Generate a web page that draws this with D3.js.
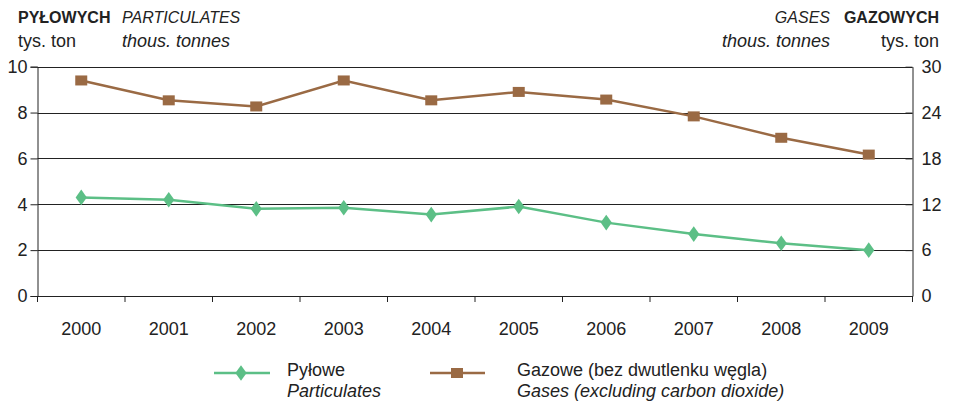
<!DOCTYPE html>
<html><head><meta charset="utf-8">
<script src="https://cdn.jsdelivr.net/npm/d3@7"></script>
<style>body{margin:0;background:#fff}svg{display:block;font-family:"Liberation Sans",Arial,sans-serif}</style>
</head><body><svg id="c" width="956" height="401"></svg>
<script>
const years = ["2000","2001","2002","2003","2004","2005","2006","2007","2008","2009"];
const particulates = [4.3, 4.2, 3.8, 3.85, 3.55, 3.9, 3.2, 2.7, 2.3, 2.0];
const gases = [28.2, 25.6, 24.8, 28.2, 25.6, 26.7, 25.7, 23.5, 20.7, 18.5];
const leftTicks = [0, 2, 4, 6, 8, 10];
const rightTicks = [0, 6, 12, 18, 24, 30];

const svg = d3.select("#c");
const L = 37.5, R = 912.5, T = 66.7, B = 296;
const green = "#5cbf86", brown = "#9a6a44";
const FS = 18;

const x = d3.scaleBand().domain(years).range([L, R]);
const yL = d3.scaleLinear().domain([0, 10]).range([B, T]);
const yR = d3.scaleLinear().domain([0, 30]).range([B, T]);

svg.append("g").selectAll("line").data(leftTicks.slice(1)).join("line")
  .attr("x1", L).attr("x2", R).attr("y1", d => Math.round(yL(d)) + 0.5).attr("y2", d => Math.round(yL(d)) + 0.5)
  .attr("stroke", "#222").attr("stroke-width", 1);

const gl = svg.append("g").attr("transform", `translate(${L},0)`)
  .call(d3.axisLeft(yL).tickValues(leftTicks).tickSize(7).tickPadding(3));
const gr = svg.append("g").attr("transform", `translate(${R},0)`)
  .call(d3.axisRight(yR).tickValues(rightTicks).tickSize(0).tickPadding(9));
gr.selectAll(".tick").append("line").attr("x1", -7).attr("x2", 0).attr("stroke", "#222");
const gb = svg.append("g").attr("transform", `translate(0,${B})`)
  .call(d3.axisBottom(x).tickSize(0).tickPadding(26));
gb.selectAll(".tick text").attr("dy", "0.71em");
svg.append("g").selectAll("line").data(d3.range(years.length + 1)).join("line")
  .attr("x1", i => L + i * x.bandwidth()).attr("x2", i => L + i * x.bandwidth())
  .attr("y1", B).attr("y2", B + 6).attr("stroke", "#222");

[gl, gr, gb].forEach(g => {
  g.selectAll(".domain").attr("stroke", "#222");
  g.selectAll(".tick line").attr("stroke", "#222");
  g.selectAll("text").attr("font-size", FS).attr("fill", "#222").attr("font-family", '"Liberation Sans",Arial,sans-serif');
});
gb.selectAll(".domain").remove();
svg.append("line").attr("x1", L).attr("x2", R).attr("y1", B + 0.5).attr("y2", B + 0.5).attr("stroke", "#222");

const cx = d => x(d) + x.bandwidth() / 2;

svg.append("path").datum(gases.map((v, i) => [cx(years[i]), yR(v)]))
  .attr("d", d3.line()).attr("fill", "none").attr("stroke", brown).attr("stroke-width", 2.5);
svg.append("path").datum(particulates.map((v, i) => [cx(years[i]), yL(v)]))
  .attr("d", d3.line()).attr("fill", "none").attr("stroke", green).attr("stroke-width", 2.5);

svg.append("g").selectAll("rect").data(gases).join("rect")
  .attr("x", (d, i) => cx(years[i]) - 6).attr("y", d => yR(d) - 5).attr("width", 12).attr("height", 10).attr("fill", brown);
const diamond = d3.symbol().type(d3.symbolDiamond).size(70);
svg.append("g").selectAll("path").data(particulates).join("path")
  .attr("d", diamond).attr("transform", (d, i) => `translate(${cx(years[i])},${yL(d)}) scale(1.25,1)`).attr("fill", green);

const txt = (s, xx, yy, opts = {}) => svg.append("text").attr("x", xx).attr("y", yy).text(s)
  .attr("font-size", opts.size || FS).attr("fill", "#222")
  .attr("font-weight", opts.bold ? "bold" : null).attr("font-style", opts.italic ? "italic" : null)
  .attr("text-anchor", opts.anchor || "start");
txt("PYŁOWYCH", 18, 23, {bold: true, size: 16});
txt("tys. ton", 18, 47);
txt("PARTICULATES", 122, 23, {italic: true, size: 16});
txt("thous. tonnes", 122, 47, {italic: true});
txt("GAZOWYCH", 939, 23, {bold: true, anchor: "end", size: 16});
txt("tys. ton", 939, 47, {anchor: "end"});
txt("GASES", 830, 23, {italic: true, anchor: "end", size: 16});
txt("thous. tonnes", 830, 47, {italic: true, anchor: "end"});

svg.append("line").attr("x1", 214).attr("x2", 270).attr("y1", 373).attr("y2", 373).attr("stroke", green).attr("stroke-width", 2.5);
svg.append("path").attr("d", diamond).attr("transform", "translate(241,373) scale(1.25,1)").attr("fill", green);
txt("Pyłowe", 287, 376);
txt("Particulates", 287, 397, {italic: true});
svg.append("line").attr("x1", 430).attr("x2", 485).attr("y1", 373).attr("y2", 373).attr("stroke", brown).attr("stroke-width", 2.5);
svg.append("rect").attr("x", 451).attr("y", 368).attr("width", 12).attr("height", 10).attr("fill", brown);
txt("Gazowe (bez dwutlenku węgla)", 517, 376);
txt("Gases (excluding carbon dioxide)", 517, 397, {italic: true});
</script></body></html>
